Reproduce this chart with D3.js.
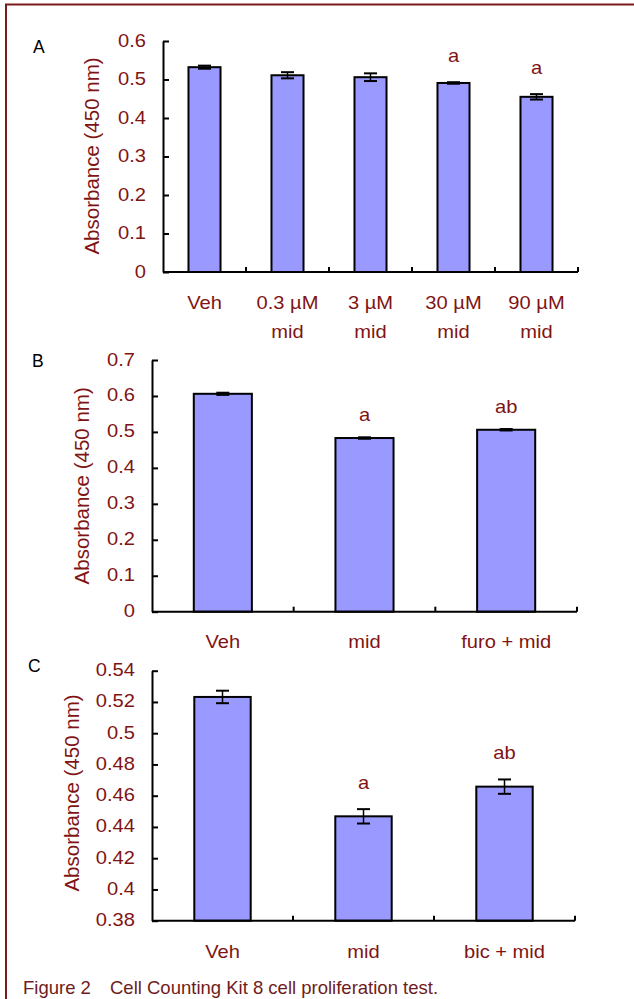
<!DOCTYPE html>
<html><head><meta charset="utf-8">
<script src="https://cdn.jsdelivr.net/npm/d3@7"></script>
<style>body{margin:0;background:#fff}svg{display:block}</style>
</head><body>
<svg id="chart" width="634" height="999"></svg>
<script>
// ---- data ----
const catsA = [["Veh"], ["0.3 µM", "mid"], ["3 µM", "mid"], ["30 µM", "mid"], ["90 µM", "mid"]];
const valsA = [0.532, 0.511, 0.506, 0.491, 0.455];
const errA  = [0.004, 0.008, 0.010, 0.002, 0.007];
const sigA  = ["", "", "", "a", "a"];
const ticksA = [0, 0.1, 0.2, 0.3, 0.4, 0.5, 0.6];

const catsB = [["Veh"], ["mid"], ["furo + mid"]];
const valsB = [0.606, 0.483, 0.506];
const errB  = [0.003, 0.002, 0.002];
const sigB  = ["", "a", "ab"];
const ticksB = [0, 0.1, 0.2, 0.3, 0.4, 0.5, 0.6, 0.7];

const catsC = [["Veh"], ["mid"], ["bic + mid"]];
const valsC = [0.5232, 0.4468, 0.4658];
const errC  = [0.004, 0.0046, 0.0046];
const sigC  = ["", "a", "ab"];
const ticksC = [0.38, 0.40, 0.42, 0.44, 0.46, 0.48, 0.50, 0.52, 0.54];

const yTitle = "Absorbance (450 nm)";
const captionA = "Figure 2";
const captionB = "Cell Counting Kit 8 cell proliferation test.";

// ---- drawing ----
const svg = d3.select("#chart");
const RED = "#7f1414";
const FONT = "'Liberation Sans', Arial, sans-serif";
const SX = 1.15;

// outer frame (left + top edges visible)
svg.append("path").attr("d", "M6,999 L6,4.5 L634,4.5")
  .attr("fill", "none").attr("stroke", "#7a1a1a").attr("stroke-width", 2);

function stext(g, x, y, str, anchor, size, color) {
  return g.append("text")
    .attr("transform", `translate(${x},${y}) scale(${SX},1)`)
    .attr("text-anchor", anchor)
    .attr("font-family", FONT).attr("font-size", size)
    .attr("fill", color).text(str);
}

function drawPanel(cfg) {
  const g = svg.append("g");
  const cats = cfg.cats.map((c, i) => i);
  const x = d3.scaleBand().domain(cats).range([cfg.x0, cfg.x1]).padding(0);
  const y = d3.scaleLinear().domain([cfg.ticks[0], cfg.ticks[cfg.ticks.length - 1]])
    .range([cfg.yb, cfg.yt]);
  const bw = x.bandwidth() * cfg.barRatio;

  // bars
  g.selectAll("rect.bar").data(cfg.vals).join("rect")
    .attr("x", (d, i) => x(i) + (x.bandwidth() - bw) / 2)
    .attr("y", d => y(d))
    .attr("width", bw)
    .attr("height", d => y.range()[0] - y(d))
    .attr("fill", "#9999ff").attr("stroke", "#000").attr("stroke-width", 2);

  // error bars
  const cap = 6.5;
  cfg.vals.forEach((v, i) => {
    const cx = x(i) + x.bandwidth() / 2;
    const e = cfg.err[i];
    const y1 = y(v + e), y2 = y(v - e);
    g.append("line").attr("x1", cx).attr("x2", cx).attr("y1", y1).attr("y2", y2)
      .attr("stroke", "#000").attr("stroke-width", 1.5);
    [y1, y2].forEach(yy => g.append("line")
      .attr("x1", cx - cap).attr("x2", cx + cap).attr("y1", yy).attr("y2", yy)
      .attr("stroke", "#000").attr("stroke-width", 2));
    if (cfg.sig[i]) stext(g, cx, y1 - cfg.sigGap, cfg.sig[i], "middle", 17.5, RED);
  });

  // y axis
  const ax = d3.axisLeft(y).tickValues(cfg.ticks).tickSize(-6).tickSizeOuter(0).tickFormat("");
  const ag = g.append("g").attr("transform", `translate(${cfg.x0},0)`).call(ax);
  ag.select(".domain").attr("stroke", "#000").attr("stroke-width", 2);
  ag.selectAll(".tick line").attr("stroke", "#000").attr("stroke-width", 2);
  cfg.ticks.forEach(t => {
    stext(g, cfg.x0 - 17, y(t) + 5.5, String(+t.toFixed(2)), "end", 17.5, RED);
  });

  // x axis line + category boundary ticks (upward)
  g.append("line").attr("x1", cfg.x0).attr("x2", cfg.x1)
    .attr("y1", y.range()[0]).attr("y2", y.range()[0])
    .attr("stroke", "#000").attr("stroke-width", 2);
  cats.forEach(i => {
    const bx = x(i) + x.step();
    g.append("line").attr("x1", bx).attr("x2", bx)
      .attr("y1", y.range()[0]).attr("y2", y.range()[0] - 5)
      .attr("stroke", "#000").attr("stroke-width", 2);
  });

  // category labels
  cfg.cats.forEach((lines, i) => {
    const cx = x(i) + x.bandwidth() / 2;
    lines.forEach((ln, k) => stext(g, cx, cfg.labelY + k * 28.7, ln, "middle", 17.5, RED));
  });

  // y title
  g.append("text")
    .attr("transform", `translate(${cfg.titleX},${(cfg.yt + cfg.yb) / 2 + cfg.titleDy}) rotate(-90)`)
    .attr("text-anchor", "middle").attr("font-family", FONT).attr("font-size", 20.5)
    .attr("fill", RED).text(yTitle);

  // panel letter
  g.append("text").attr("x", cfg.letterX).attr("y", cfg.letterY)
    .attr("font-family", FONT).attr("font-size", 17.5).attr("fill", "#000").text(cfg.letter);
}

drawPanel({cats: catsA, vals: valsA, err: errA, sig: sigA, ticks: ticksA,
  x0: 163, x1: 578, yt: 41, yb: 272, barRatio: 0.386, sigGap: 20,
  labelY: 309, titleX: 99, titleDy: -0.5, letter: "A", letterX: 33, letterY: 53});
drawPanel({cats: catsB, vals: valsB, err: errB, sig: sigB, ticks: ticksB,
  x0: 152, x1: 577, yt: 360, yb: 611.7, barRatio: 0.41, sigGap: 16,
  labelY: 648, titleX: 89, titleDy: 0, letter: "B", letterX: 32, letterY: 367});
drawPanel({cats: catsC, vals: valsC, err: errC, sig: sigC, ticks: ticksC,
  x0: 152, x1: 575, yt: 670.7, yb: 920.7, barRatio: 0.40, sigGap: 20,
  labelY: 958, titleX: 79, titleDy: -2.7, letter: "C", letterX: 28, letterY: 672});

// caption
svg.append("text").attr("x", 23).attr("y", 994).attr("font-family", FONT)
  .attr("font-size", 18.5).attr("fill", "#6e1c1c").text(captionA);
svg.append("text").attr("x", 110).attr("y", 994).attr("font-family", FONT)
  .attr("font-size", 18.5).attr("fill", "#6e1c1c").text(captionB);
</script>
</body></html>
